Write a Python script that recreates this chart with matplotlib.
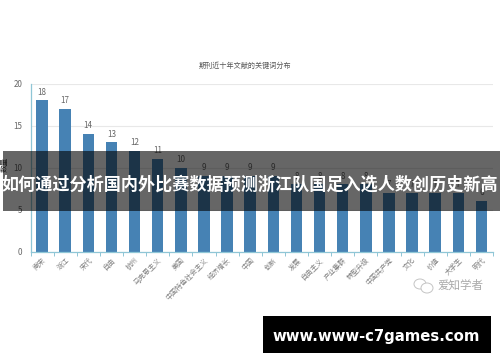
import matplotlib
matplotlib.use('Agg')
import matplotlib.pyplot as plt
from matplotlib.patches import Rectangle, Ellipse

plt.rcParams['font.family'] = ['Noto Sans CJK SC', 'DejaVu Sans']

keywords = ["南宋", "浙江", "宋代", "自由", "杭州", "马克思主义", "美国", "中国特色社会主义", "经济增长", "中国",
            "创新", "发展", "自由主义", "产业集群", "转型升级", "中国共产党", "文化", "价值", "大学生", "明代"]
counts = [18, 17, 14, 13, 12, 11, 10, 9, 9, 9, 9, 8, 8, 8, 8, 7, 7, 7, 7, 6]
y_ticks = [0, 5, 10, 15, 20]

W, H = 500, 362
fig = plt.figure(figsize=(W / 100, H / 100), dpi=100)

# plot area in pixels: left 30.5, right 493, y=0 at 251.5, y=20 at 83.5
ax = fig.add_axes([30.5 / W, 1 - 251.5 / H, (493 - 30.5) / W, 168 / H])
xs = list(range(len(keywords)))
ax.bar(xs, counts, width=0.5, color="#4682b4", zorder=2)
for x, c in zip(xs, counts):
    ax.text(x, c + 0.45, str(c), ha='center', va='bottom', fontsize=5.8, color="#666666")

ax.set_xlim(-0.5, 19.5)
ax.set_ylim(0, 20)
ax.set_yticks(y_ticks)
ax.set_xticks([i - 0.5 for i in range(21)], labels=[])
ax.set_xticks(xs, labels=keywords, minor=True)
ax.tick_params(axis='x', which='major', length=3, width=0.7, color="#8fc6d6")
ax.tick_params(axis='x', which='minor', length=0, pad=3.5)
ax.tick_params(axis='y', length=0, labelsize=5.8, labelcolor="#666666", pad=6)
for lab in ax.get_xticklabels(minor=True):
    lab.set_rotation(45)
    lab.set_ha('right')
    lab.set_va('top')
    lab.set_rotation_mode('anchor')
    lab.set_fontsize(5)
    lab.set_color("#808080")
ax.grid(axis='y', color="#e8e8e8", linewidth=0.8, zorder=0)
for s in ['top', 'right']:
    ax.spines[s].set_visible(False)
for s in ['left', 'bottom']:
    ax.spines[s].set_color("#8fc6d6")
    ax.spines[s].set_linewidth(0.9)

fig.text(245 / W, 1 - 65.5 / H, "期刊近十年文献的关键词分布", ha='center', va='center', fontsize=5.1, color="#555555")
fig.text(5 / W, 1 - 164 / H, "数量", rotation=90, ha='center', va='center', fontsize=5.5, color="#444444",
         linespacing=1)

# banner, black at 60% so the bars and labels show through
fig.add_artist(Rectangle((3 / W, 1 - 211 / H), 497 / W, 60 / H, transform=fig.transFigure,
                         facecolor="black", alpha=0.6, edgecolor='none', zorder=5))
fig.text(250 / W, 1 - 185 / H, "如何通过分析国内外比赛数据预测浙江队国足入选人数创历史新高", ha='center', va='center',
         fontsize=12.3, color="white", fontweight='bold', zorder=6)

# watermark: two speech bubbles and the account name
for cx, cy, w, h in [(420, 284, 12, 10), (427, 288, 12, 10)]:
    fig.add_artist(Ellipse((cx / W, 1 - cy / H), w / W, h / H, transform=fig.transFigure,
                           facecolor="white", edgecolor="#c4c4c4", linewidth=0.7, zorder=6))
fig.text(437 / W, 1 - 285.5 / H, "爱知学者", ha='left', va='center', fontsize=8.3, color="#aaaaaa", zorder=6)

# black url box
fig.add_artist(Rectangle((263 / W, 1 - 353 / H), 228 / W, 37 / H, transform=fig.transFigure,
                         facecolor="black", edgecolor='none', zorder=5))
fig.text(376 / W, 1 - 336.5 / H, "www.www-c7games.com", ha='center', va='center', fontsize=10.7, color="white",
         fontweight='bold', family='DejaVu Sans', zorder=6)

fig.savefig("out.png", dpi=100)
